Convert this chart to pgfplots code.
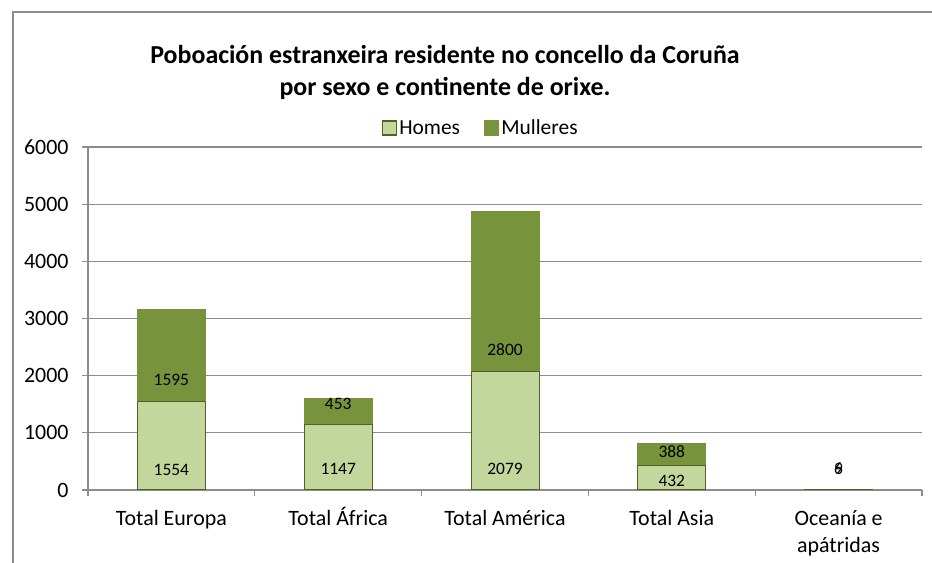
\documentclass[border=0pt]{standalone}
\usepackage{fontspec}
\setmainfont{Carlito}
\usepackage{pgfplots}
\pgfplotsset{compat=1.18}
\definecolor{homes}{HTML}{C3D69B}
\definecolor{homesedge}{HTML}{4F6228}
\definecolor{mull}{HTML}{77933C}
\definecolor{gridc}{HTML}{8C8C8C}
\begin{document}
\begin{tikzpicture}[x=1bp,y=1bp]
\useasboundingbox (0,0) rectangle (932,563);
\draw[gridc, line width=1.3bp] (13,0) -- (13,551) -- (932,551);
\node[font=\fontsize{26}{30}\selectfont\bfseries] at (445,508) {Poboación estranxeira residente no concello da Coruña};
\node[font=\fontsize{26}{30}\selectfont\bfseries] at (445,475) {por sexo e continente de orixe.};
\begin{axis}[
  at={(88bp,73bp)}, anchor=south west,
  scale only axis, width=834bp, height=343bp,
  ybar stacked, bar width=68bp,
  xmin=-0.5, xmax=4.5, ymin=0, ymax=6000,
  enlargelimits=false,
  ytick={0,1000,...,6000},
  xtick={-0.5,0.5,...,4.5},
  x tick label as interval,
  xticklabels={{\vphantom{Á}Total Europa}, {\vphantom{Á}Total África}, {\vphantom{Á}Total América}, {\vphantom{Á}Total Asia}, {\vphantom{Á}Oceanía e\\apátridas}},
  xticklabel style={align=center, font=\fontsize{22}{27}\selectfont, yshift=-8bp},
  yticklabel style={font=\fontsize{22}{25}\selectfont, xshift=-10bp},
  /pgf/number format/assume math mode=true,
  /pgf/number format/1000 sep={},
  axis x line=bottom, axis y line=left,
  axis line style={gridc, line width=1.3bp, -},
  tick align=outside, major tick length=6bp,
  tick style={gridc, line width=1.3bp},
  ymajorgrids, grid style={gridc, line width=1.3bp},
  legend style={at={(0.471,1.055)}, anchor=center, draw=none, fill=none,
    legend columns=2, font=\fontsize{21.5}{25}\selectfont,
    /tikz/every even column/.append style={column sep=22bp}},
  legend image code/.code={\draw[#1, line width=1.3bp] (0bp,-7bp) rectangle (14bp,7bp);},
]
\addplot[fill=homes, draw=homesedge, line width=1bp] coordinates {(0,1554) (1,1147) (2,2079) (3,432) (4,6)};
\addplot[fill=mull, draw=mull, line width=1bp] coordinates {(0,1595) (1,453) (2,2800) (3,388) (4,9)};
\legend{Homes, Mulleres}
\end{axis}
\begin{axis}[
  at={(88bp,73bp)}, anchor=south west,
  scale only axis, width=834bp, height=343bp,
  xmin=-0.5, xmax=4.5, ymin=0, ymax=6000,
  enlargelimits=false, hide axis, clip=false,
]
\addplot[draw=none, mark=none, nodes near coords, point meta=explicit symbolic,
  every node near coord/.append style={anchor=center, font=\fontsize{17.5}{20}\selectfont, inner sep=0pt, text=black}]
  coordinates {(0,350)[1554] (0,1923)[1595] (1,367)[1147] (1,1503)[453]
               (2,367)[2079] (2,2448)[2800] (3,157)[432] (3,664)[388]
               (4,367)[6] (4,367)[9]};
\end{axis}
\end{tikzpicture}
\end{document}
